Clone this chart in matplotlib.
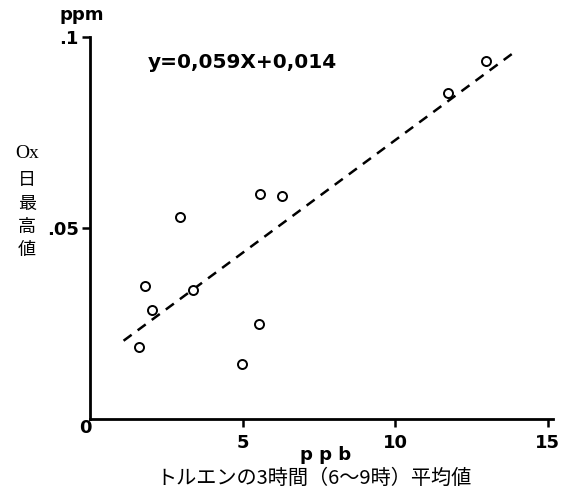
import numpy as np
import matplotlib.pyplot as plt

# toluene 3h mean (ppb) vs daily max Ox (ppm)
toluene = [1.61, 1.81, 2.03, 2.96, 3.36, 4.98, 5.54, 5.58, 6.29, 11.74, 12.97]
ox_max = [0.0189, 0.0347, 0.0285, 0.0528, 0.0338, 0.0144, 0.0249, 0.0590, 0.0584, 0.0854, 0.0938]

fit_slope = 0.0059
fit_icpt = 0.014
fit_range = [1.1, 14.0]

xticks = [5, 10, 15]
yticks = [0.05, 0.1]
ytick_labels = ['.05', '.1']

cjk = ['Noto Sans CJK JP', 'DejaVu Sans']

fig = plt.figure(figsize=(5.73, 4.96), dpi=100)
ax = fig.add_axes([90 / 573, 77 / 496, 463 / 573, 382 / 496])

xf = np.array(fit_range)
ax.plot(xf, fit_slope * xf + fit_icpt, color='black', lw=1.8, dashes=(4, 3))
ax.plot(toluene, ox_max, 'o', mfc='white', mec='black', mew=1.4, ms=6.5)

ax.set_xlim(0, 15.17)
ax.set_ylim(0, 0.1)
for s in ['top', 'right']:
    ax.spines[s].set_visible(False)
for s in ['left', 'bottom']:
    ax.spines[s].set_linewidth(2)

ax.set_xticks(xticks)
ax.set_xticklabels([str(t) for t in xticks], fontsize=13, fontweight='bold')
ax.set_yticks(yticks)
ax.set_yticklabels(ytick_labels, fontsize=13, fontweight='bold')
ax.tick_params(axis='both', direction='out', length=6, width=1.8, pad=5)
ax.tick_params(axis='y', pad=2)

ax.text(-0.16, -0.0024, '0', fontsize=13, fontweight='bold', ha='center', va='center')

ax.text(148 / 573, 1 - 62 / 496, 'y=0,059X+0,014', transform=fig.transFigure,
        fontsize=14.5, fontweight='bold', va='center', ha='left')
ax.text(82 / 573, 1 - 15 / 496, 'ppm', transform=fig.transFigure,
        fontsize=13, fontweight='bold', va='center', ha='center')
ax.text(326 / 573, 1 - 455 / 496, 'p p b', transform=fig.transFigure,
        fontsize=13, fontweight='bold', va='center', ha='center')
ax.text(314 / 573, 1 - 478 / 496, 'トルエンの3時間（6～9時）平均値', transform=fig.transFigure,
        fontsize=14.5, family=cjk, va='center', ha='center')

ax.text(27 / 573, 1 - 153 / 496, 'Ox', transform=fig.transFigure,
        fontsize=14, family='Liberation Serif', va='center', ha='center')
for i, ch in enumerate('日最高値'):
    ax.text(27 / 573, 1 - (180 + 23.5 * i) / 496, ch, transform=fig.transFigure,
            fontsize=13, family=cjk, va='center', ha='center')

fig.savefig('out.png', dpi=100)
